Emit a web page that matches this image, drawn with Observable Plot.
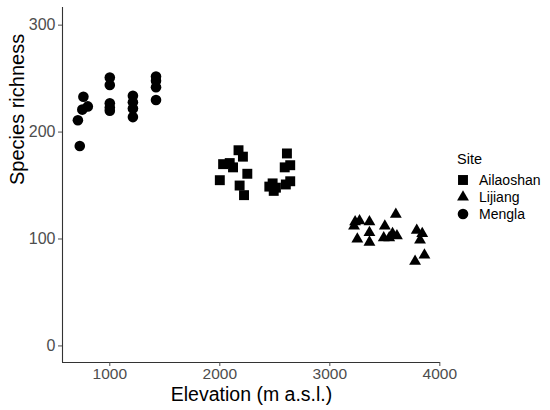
<!DOCTYPE html>
<html>
<head>
<meta charset="utf-8">
<script src="https://cdn.jsdelivr.net/npm/d3@7"></script>
<script src="https://cdn.jsdelivr.net/npm/@observablehq/plot@0.6"></script>
<style>
  html, body { margin: 0; padding: 0; background: #fff; }
  #wrap { position: relative; width: 550px; height: 410px; font-family: "Liberation Sans", Arial, sans-serif; }
  #legend { position: absolute; left: 455px; top: 151px; font-size: 14px; color: #000; }
  #legend .title { font-size: 14.5px; margin-left: 2px; margin-bottom: 4px; }
  #legend .row { display: flex; align-items: center; height: 17px; }
  #legend svg { width: 16px; height: 16px; margin-right: 8px; }
</style>
</head>
<body>
<div id="wrap"><div id="legend"></div></div>
<script>
// ---- data ----
const sites = ["Ailaoshan", "Lijiang", "Mengla"];
const shapes = ["square", "triangle", "circle"];

const ailaoshanElevation = [2000, 2030, 2090, 2120, 2170, 2210, 2250, 2180, 2220, 2450, 2480, 2490, 2510, 2610, 2590, 2640, 2600, 2640];
const ailaoshanRichness  = [155, 170, 171, 167, 183, 177, 161, 150, 141, 149, 152, 145, 148, 180, 167, 169, 151, 154];

const lijiangElevation = [3230, 3270, 3220, 3250, 3360, 3360, 3360, 3500, 3490, 3540, 3570, 3610, 3600, 3790, 3840, 3820, 3860, 3775];
const lijiangRichness  = [116, 117, 112, 100, 116, 106, 97, 112, 101, 101, 105, 103, 123, 108, 105, 99, 85, 79];

const menglaElevation = [710, 727, 750, 760, 800, 1000, 1000, 1000, 1000, 1000, 1210, 1210, 1210, 1210, 1420, 1420, 1420, 1420];
const menglaRichness  = [211, 187, 221, 233, 224, 251, 244, 227, 223, 220, 234, 228, 222, 214, 252, 248, 242, 230];

const xTicks = [1000, 2000, 3000, 4000];
const yTicks = [0, 100, 200, 300];
const xDomain = [570, 4006];
const yDomain = [-15.5, 316.5];

const xTitle = "Elevation (m a.s.l.)";
const yTitle = "Species richness";
const legendTitle = "Site";

// ---- table ----
function rows(site, xs, ys) { return xs.map((x, i) => ({site, elevation: x, richness: ys[i]})); }
const data = [
  ...rows("Ailaoshan", ailaoshanElevation, ailaoshanRichness),
  ...rows("Lijiang", lijiangElevation, lijiangRichness),
  ...rows("Mengla", menglaElevation, menglaRichness)
];
const sizeBySite = {Ailaoshan: 5.6, Lijiang: 4.4, Mengla: 5.3};

const axisColor = "#333333";
const tickText = "#4d4d4d";
const fmt = d3.format("d");

const chart = Plot.plot({
  width: 550,
  height: 410,
  marginLeft: 62,
  marginRight: 110,
  marginTop: 7,
  marginBottom: 48,
  style: {fontFamily: "'Liberation Sans', Arial, sans-serif", background: "#fff"},
  x: {domain: xDomain, ticks: xTicks},
  y: {domain: yDomain, ticks: yTicks},
  symbol: {domain: sites, range: shapes},
  marks: [
    Plot.ruleX([xDomain[0]], {stroke: axisColor, strokeWidth: 1.1}),
    Plot.ruleY([yDomain[0]], {stroke: axisColor, strokeWidth: 1.1}),
    Plot.axisX({ticks: xTicks, tickFormat: fmt, tickSize: 4, tickPadding: 1, fontSize: 15.5, color: tickText, label: null}),
    Plot.axisY({ticks: yTicks, tickFormat: fmt, tickSize: 4, tickPadding: 3, fontSize: 16, color: tickText, label: null}),
    ...sites.map(s => Plot.dot(data.filter(d => d.site === s), {
      x: "elevation", y: "richness", symbol: "site", fill: "black", stroke: "none", r: sizeBySite[s]
    })),
    Plot.text([xTitle], {frameAnchor: "bottom", dy: 38, fontSize: 19.5, fill: "black"}),
    Plot.text([yTitle], {frameAnchor: "left", dx: -45, rotate: -90, fontSize: 20, fill: "black"})
  ]
});
document.getElementById("wrap").prepend(chart);

// ---- legend ----
const legend = d3.select("#legend");
legend.append("div").attr("class", "title").text(legendTitle);
const symMap = {square: d3.symbolSquare, triangle: d3.symbolTriangle, circle: d3.symbolCircle};
sites.forEach((s, i) => {
  const row = legend.append("div").attr("class", "row");
  const r = sizeBySite[s];
  row.append("svg").attr("viewBox", "-8 -8 16 16")
    .append("path")
    .attr("d", d3.symbol(symMap[shapes[i]], Math.PI * r * r)())
    .attr("fill", "black");
  row.append("span").text(s);
});
</script>
</body>
</html>
